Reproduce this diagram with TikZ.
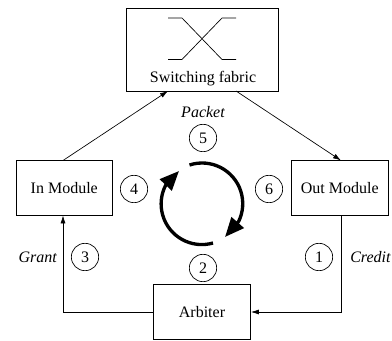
\documentclass[tikz,border=0pt]{standalone}
\usepackage{fontspec}
\setmainfont{Liberation Serif}
\usetikzlibrary{arrows.meta}
\tikzset{
  px/.style={x=0.75pt,y=-0.75pt},
  txt/.style={font=\fontsize{12}{14}\selectfont},
  box/.style={draw,line width=0.6pt,inner sep=0pt,txt},
  num/.style={draw,circle,line width=0.5pt,minimum size=20.5pt,inner sep=0pt,txt},
  lab/.style={txt,font=\fontsize{12}{14}\selectfont\itshape,inner sep=0pt},
  conn/.style={line width=0.5pt,-{Latex[length=6pt,width=3.8pt]}},
  cyc/.style={line width=2.5pt,-{Triangle[length=14.5pt,width=12pt]}}
}
\begin{document}
\begin{tikzpicture}[px]
\useasboundingbox (0,0) rectangle (392,341);
\node[box,minimum width=114pt,minimum height=62pt] (fab) at (202,50) {};
\node[inner sep=0pt,txt] (fabt) at (203,79) {Switching fabric};
\node[box,minimum width=72.4pt,minimum height=41.25pt] (in) at (64.25,188) {In Module};
\node[box,minimum width=72.4pt,minimum height=41.25pt] (out) at (339.75,188) {Out Module};
\node[box,minimum width=72.75pt,minimum height=41.25pt] (arb) at (202,312) {Arbiter};
\coordinate (a1) at (168,18);\coordinate (a2) at (182,18);\coordinate (a3) at (222,59.5);\coordinate (a4) at (236,59.5);
\coordinate (b1) at (168,59.5);\coordinate (b2) at (182,59.5);\coordinate (b3) at (222,18);\coordinate (b4) at (236,18);
\draw[line width=0.5pt] (a1)--(a2)--(a3)--(a4);
\draw[line width=0.5pt] (b1)--(b2)--(b3)--(b4);
\coordinate (fin) at (168,91);\coordinate (fout) at (236,91);
\coordinate (intop) at (63,160.5);\coordinate (outtop) at (341,160.5);
\coordinate (inbot) at (63,215.5);\coordinate (outbot) at (341,215.5);
\draw[conn] (intop) -- (fin);
\draw[conn] (fout) -- (outtop);
\draw[conn] (outbot) |- (arb.east);
\draw[conn] (arb.west) -| (inbot);
\node[num] (n5) at (203,138) {5};
\node[num] (n4) at (134,189) {4};
\node[num] (n6) at (269,189) {6};
\node[num] (n3) at (85,257) {3};
\node[num] (n2) at (203,268) {2};
\node[num] (n1) at (319,257) {1};
\node[lab] (lp) at (203,112) {Packet};
\node[lab,anchor=east] (lg) at (57,257) {Grant};
\node[lab,anchor=west] (lc) at (350,257) {Credit};
\coordinate (s1) at (189.5,165);\coordinate (t1) at (225,237);
\coordinate (s2) at (213,243);\coordinate (t2) at (179,171);
\draw[cyc] (s1) arc[start angle=108,end angle=-26,radius=30.5pt] -- (t1);
\draw[cyc] (s2) arc[start angle=-74,end angle=-208,radius=30.5pt] -- (t2);
\end{tikzpicture}
\end{document}
